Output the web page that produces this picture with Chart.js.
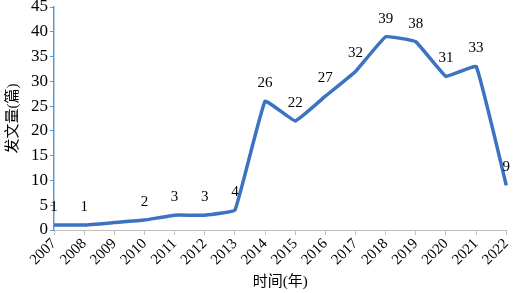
<!DOCTYPE html>
<html>
<head>
<meta charset="utf-8">
<script src="https://cdn.jsdelivr.net/npm/chart.js@4"></script>
<style>
  html, body { margin: 0; padding: 0; background: #fff; }
  #wrap { width: 519px; height: 293px; }
</style>
</head>
<body>
<div id="wrap"><canvas id="lineChart" width="519" height="293"></canvas></div>
<script>
// chart data
const years = ['2007', '2008', '2009', '2010', '2011', '2012', '2013', '2014',
               '2015', '2016', '2017', '2018', '2019', '2020', '2021', '2022'];
const papers = [1, 1, 1.5, 2, 3, 3, 4, 26, 22, 27, 32, 39, 38, 31, 33, 9];
const shownLabels = [1, 1, null, 2, 3, 3, 4, 26, 22, 27, 32, 39, 38, 31, 33, 9];
const yTicks = [0, 5, 10, 15, 20, 25, 30, 35, 40, 45];

const serif = "'Liberation Serif', 'Times New Roman', 'Noto Sans CJK SC', serif";

// draws the numbers above the points
const pointLabels = {
    id: 'pointLabels',
    afterDatasetsDraw(chart) {
        const c = chart.ctx;
        const meta = chart.getDatasetMeta(0);
        c.save();
        c.font = '15px ' + serif;
        c.fillStyle = '#000';
        c.textAlign = 'center';
        c.textBaseline = 'middle';
        meta.data.forEach((pt, i) => {
            if (shownLabels[i] === null) return;
            c.fillText(String(shownLabels[i]), pt.x, pt.y - 18);
        });
        c.restore();
    }
};

const ctx = document.getElementById('lineChart').getContext('2d');
const lineChart = new Chart(ctx, {
    type: 'line',
    data: {
        labels: years,
        datasets: [{
            data: papers,
            borderColor: '#3C72C2',
            borderWidth: 3.5,
            pointRadius: 0,
            tension: 0.08,
            fill: false
        }]
    },
    options: {
        responsive: false,
        animation: false,
        layout: { padding: { top: 7, right: 11, left: 0, bottom: 0 } },
        plugins: {
            legend: { display: false },
            tooltip: { enabled: false }
        },
        scales: {
            x: {
                offset: false,
                grid: {
                    drawOnChartArea: false,
                    drawTicks: true,
                    tickLength: 5,
                    color: '#BFBFBF'
                },
                border: { color: '#BFBFBF', width: 1 },
                ticks: {
                    minRotation: 45,
                    maxRotation: 45,
                    autoSkip: false,
                    color: '#000',
                    padding: 0,
                    font: { family: serif, size: 15 }
                },
                title: {
                    display: true,
                    text: '时间(年)',
                    color: '#000',
                    padding: { top: 0, bottom: 2 },
                    font: { family: serif, size: 15 }
                },
                afterFit(scale) { scale.height = 63; }
            },
            y: {
                min: 0,
                max: 45,
                afterBuildTicks(scale) {
                    scale.ticks = yTicks.map(v => ({ value: v }));
                },
                grid: {
                    drawOnChartArea: false,
                    drawTicks: true,
                    tickLength: 4,
                    color: '#5B9BD5'
                },
                border: { color: '#5B9BD5', width: 1.5 },
                ticks: {
                    color: '#000',
                    padding: 2,
                    font: { family: serif, size: 17 }
                },
                title: {
                    display: true,
                    text: '发文量(篇)',
                    color: '#000',
                    padding: { top: 4, bottom: 0 },
                    font: { family: serif, size: 15 }
                },
                afterFit(scale) {
                    scale.width = 54;
                    scale.paddingTop = 0;
                    scale.paddingBottom = 0;
                }
            }
        }
    },
    plugins: [pointLabels]
});
</script>
</body>
</html>
